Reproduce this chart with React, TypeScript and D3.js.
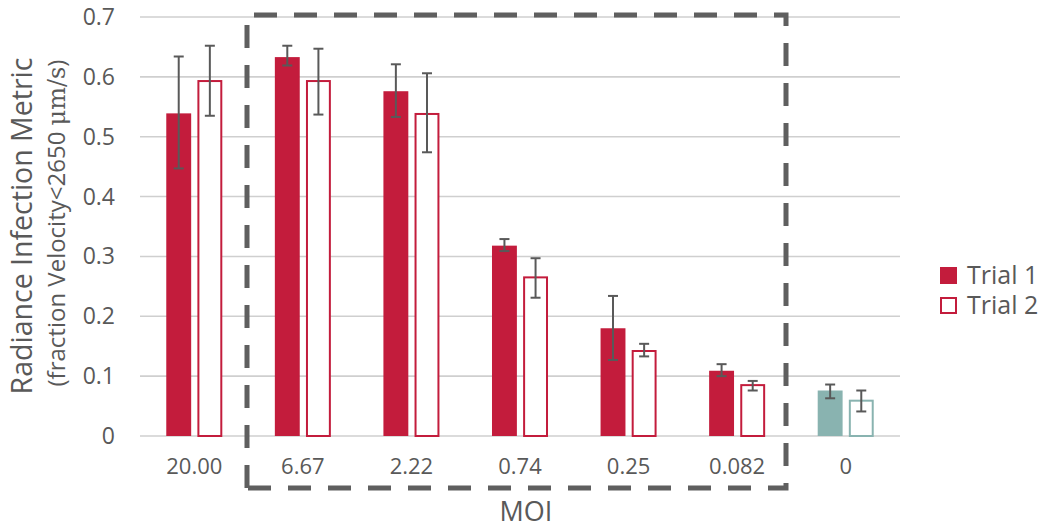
import * as d3 from 'd3';

const categories = ['20.00', '6.67', '2.22', '0.74', '0.25', '0.082', '0'];
const series = ['Trial 1', 'Trial 2'];
const trial1 = [0.539, 0.633, 0.576, 0.318, 0.18, 0.109, 0.076];
const trial1Low = [0.447, 0.619, 0.533, 0.309, 0.127, 0.1, 0.063];
const trial1High = [0.634, 0.652, 0.621, 0.329, 0.234, 0.12, 0.086];
const trial2 = [0.593, 0.593, 0.538, 0.265, 0.142, 0.085, 0.059];
const trial2Low = [0.535, 0.537, 0.474, 0.231, 0.133, 0.076, 0.041];
const trial2High = [0.652, 0.647, 0.606, 0.297, 0.154, 0.092, 0.076];
const yTicks = [0, 0.1, 0.2, 0.3, 0.4, 0.5, 0.6, 0.7];
const controlCategory = '0';

const RED = '#C31C3C';
const TEAL = '#89B3B0';
const GREY = '#595959';
const FONT = '"Open Sans", "Noto Sans", sans-serif';

const W = 1054;
const H = 529;
const plot = { left: 140, right: 900, top: 17, bottom: 436 };
// dashed annotation frame (pixels)
const frame = { left: 247, right: 786, top: 15, bottom: 488 };

export default function App() {
  const x0 = d3
    .scaleBand<string>()
    .domain(categories)
    .range([plot.left, plot.right])
    .paddingInner(0.484)
    .paddingOuter(0.242);
  const x1 = d3.scaleBand<string>().domain(series).range([0, x0.bandwidth()]).paddingInner(0.2);
  const y = d3.scaleLinear().domain([0, 0.7]).range([plot.bottom, plot.top]);

  const rows = categories.map((c, i) => ({
    c,
    vals: [
      { s: series[0], v: trial1[i], lo: trial1Low[i], hi: trial1High[i] },
      { s: series[1], v: trial2[i], lo: trial2Low[i], hi: trial2High[i] },
    ],
  }));

  const framePath = `M${frame.left},${frame.bottom}V${frame.top}H${frame.right}V${frame.bottom}Z`;
  const cap = 5;

  return (
    <svg
      width={W}
      height={H}
      style={{ position: 'absolute', left: 0, top: 0, background: '#fff' }}
      fontFamily={FONT}
    >
      {/* gridlines */}
      {yTicks.map((t) => (
        <line
          key={t}
          x1={plot.left}
          x2={plot.right}
          y1={y(t)}
          y2={y(t)}
          stroke="#cfcfcf"
          strokeWidth={1.6}
        />
      ))}
      {yTicks.map((t) => (
        <text
          key={'l' + t}
          x={115}
          y={y(t)}
          dy="0.35em"
          textAnchor="end"
          fontSize={23}
          fill={GREY}
        >
          {t === 0 ? '0' : t.toFixed(1)}
        </text>
      ))}

      {/* bars */}
      {rows.map((r) => {
        const color = r.c === controlCategory ? TEAL : RED;
        return (
          <g key={r.c} transform={`translate(${x0(r.c)},0)`}>
            {r.vals.map((d, j) => {
              const bx = x1(d.s)!;
              const bw = x1.bandwidth();
              return j === 0 ? (
                <rect
                  key={d.s}
                  x={bx}
                  y={y(d.v)}
                  width={bw}
                  height={y(0) - y(d.v)}
                  fill={color}
                />
              ) : (
                <rect
                  key={d.s}
                  x={bx + 1}
                  y={y(d.v)}
                  width={bw - 2}
                  height={y(0) - y(d.v)}
                  fill="#fff"
                  stroke={color}
                  strokeWidth={2}
                />
              );
            })}
            {r.vals.map((d) => {
              const cx = x1(d.s)! + x1.bandwidth() / 2;
              return (
                <g key={'e' + d.s} stroke={GREY} strokeWidth={2}>
                  <line x1={cx} x2={cx} y1={y(d.hi)} y2={y(d.lo)} />
                  <line x1={cx - cap} x2={cx + cap} y1={y(d.hi)} y2={y(d.hi)} />
                  <line x1={cx - cap} x2={cx + cap} y1={y(d.lo)} y2={y(d.lo)} />
                </g>
              );
            })}
          </g>
        );
      })}

      {/* category labels */}
      {categories.map((c) => (
        <text
          key={'c' + c}
          x={x0(c)! + x0.bandwidth() / 2}
          y={466}
          dy="0.35em"
          textAnchor="middle"
          fontSize={22}
          fill={GREY}
        >
          {c}
        </text>
      ))}

      <path
        d={framePath}
        fill="none"
        stroke="#5f5f5f"
        strokeWidth={5}
        strokeDasharray="23 17"
      />

      {/* axis titles */}
      <text x={526} y={512} dy="0.35em" textAnchor="middle" fontSize={27} fill={GREY}>
        MOI
      </text>
      <text
        transform="translate(32,226) rotate(-90)"
        textAnchor="middle"
        fontSize={28.5}
        fill={GREY}
      >
        Radiance Infection Metric
      </text>
      <text
        transform="translate(65,223) rotate(-90)"
        textAnchor="middle"
        fontSize={24}
        fill={GREY}
      >
        (fraction Velocity&lt;2650{' '}
        <tspan fontFamily='"DejaVu Serif", "Liberation Serif", serif'>μm/s</tspan>)
      </text>

      {/* legend */}
      {series.map((s, i) => (
        <g key={'lg' + s} transform={`translate(940,${267 + i * 30})`}>
          {i === 0 ? (
            <rect x={0} y={0} width={17} height={17} fill={RED} />
          ) : (
            <rect x={1} y={1} width={15} height={15} fill="#fff" stroke={RED} strokeWidth={2} />
          )}
          <text x={27} y={8.5} dy="0.35em" fontSize={25} fill={GREY}>
            {s}
          </text>
        </g>
      ))}
    </svg>
  );
}
